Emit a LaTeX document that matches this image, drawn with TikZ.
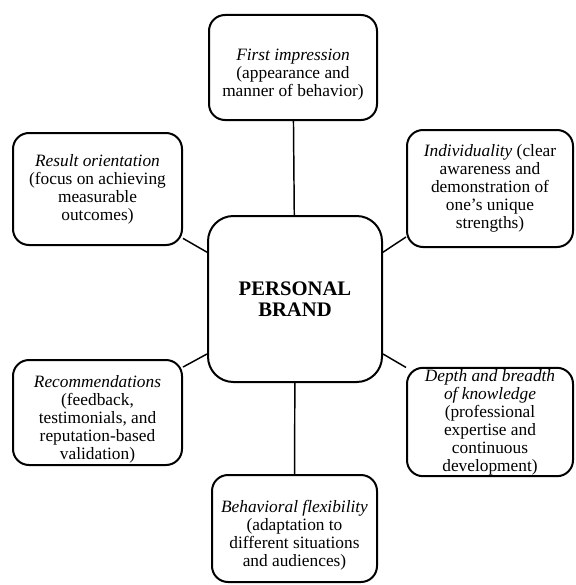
\documentclass[tikz,border=0pt]{standalone}
\usepackage{fontspec}
\setmainfont{Liberation Serif}
\newcommand{\lowr}{\rule{0pt}{19pt}}

\begin{document}
\begin{tikzpicture}[x=0.75pt,y=-0.75pt,
      font=\fontsize{13}{13.5}\selectfont,
      b/.style={draw,rounded corners=12pt,align=center,line width=1.5pt,inner sep=1pt},
      c/.style={draw,rounded corners=19pt,align=center,line width=1.5pt,
                minimum width=130.5pt,minimum height=124.5pt,
                font=\bfseries\fontsize{15.5}{16}\selectfont},
      l/.style={line width=1.1pt}]
    \useasboundingbox (0,0) rectangle (575,585);
    \node[c] (brand) at (295,299) {PERSONAL\\BRAND};
    \node[b,minimum width=126pt,minimum height=78.75pt] (first) at (293,67.5)
      {\lowr\textit{First impression}\\(appearance and\\manner of behavior)};
    \node[b,minimum width=126.75pt,minimum height=84pt] (res) at (97.5,189)
      {\textit{Result orientation}\\(focus on achieving\\measurable\\outcomes)};
    \node[b,minimum width=124.5pt,minimum height=87.75pt] (ind) at (490,188.5)
      {\textit{Individuality} (clear\\awareness and\\demonstration of\\one’s unique\\strengths)};
    \node[b,minimum width=126.75pt,minimum height=78.75pt] (rec) at (97.5,412.5)
      {\lowr\textit{Recommendations}\\(feedback,\\testimonials, and\\reputation-based\\validation)};
    \node[b,minimum width=124.5pt,minimum height=81pt] (dep) at (490,422)
      {\textit{Depth and breadth}\\\textit{of knowledge}\\(professional\\expertise and\\continuous\\development)};
    \node[b,minimum width=123.75pt,minimum height=80.25pt] (beh) at (294.5,528.5)
      {\lowr\textit{Behavioral flexibility}\\(adaptation to\\different situations\\and audiences)};

    \draw[l] (first) -- (brand);
    \draw[l] (brand) -- (beh);
    \draw[l] (res.-30) -- (brand.152);
    \draw[l] (brand.28) -- (ind.210);
    \draw[l] (rec.28) -- (brand.212);
    \draw[l] (brand.-32) -- (dep.147);
  \end{tikzpicture}
\end{document}
